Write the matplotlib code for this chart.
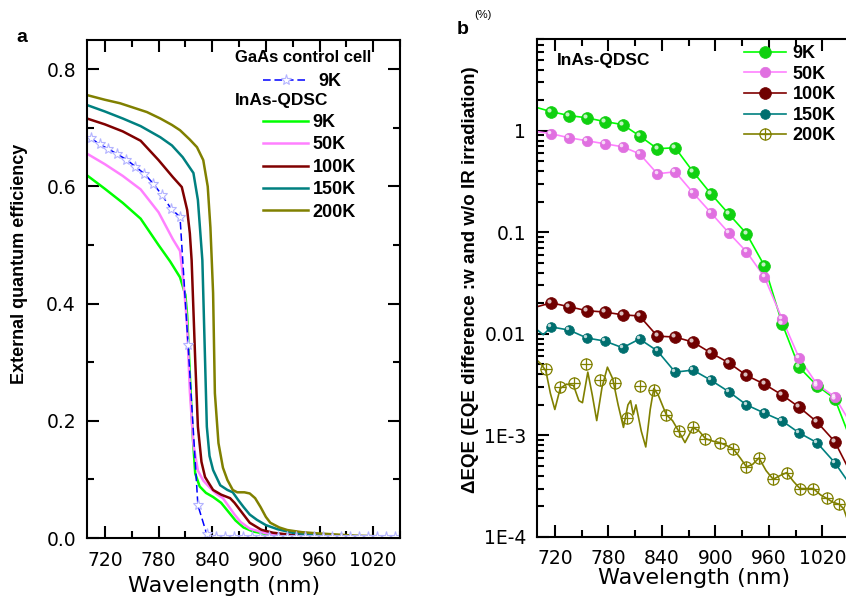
import matplotlib
matplotlib.use('Agg')
import matplotlib.pyplot as plt
import matplotlib.transforms as mtransforms
from matplotlib.ticker import FixedLocator, NullFormatter, MultipleLocator, LogLocator, FixedFormatter
from matplotlib.legend_handler import HandlerTuple

plt.rcParams['font.family'] = ['Liberation Sans', 'DejaVu Sans']

# ---------------- Panel a data (EQE vs wavelength) ----------------
a_wl_9k = [700, 720, 740, 760, 780, 793, 804, 810, 812, 815, 818, 821, 826, 833, 841, 850, 858, 866, 875, 886, 900, 920, 960, 1000, 1050]
a_eqe_9k = [0.619, 0.596, 0.572, 0.545, 0.50, 0.472, 0.445, 0.415, 0.38, 0.28, 0.18, 0.11, 0.088, 0.077, 0.07, 0.06, 0.045, 0.03, 0.018, 0.011, 0.007, 0.004, 0.002, 0.0015, 0.001]

a_wl_50k = [700, 720, 740, 760, 780, 796, 804, 807, 810, 812, 815, 819, 824, 830, 838, 845, 852, 858, 865, 872, 882, 900, 930, 1000, 1050]
a_eqe_50k = [0.656, 0.638, 0.618, 0.595, 0.556, 0.51, 0.49, 0.45, 0.40, 0.36, 0.25, 0.16, 0.115, 0.098, 0.085, 0.075, 0.068, 0.055, 0.04, 0.027, 0.016, 0.008, 0.004, 0.0018, 0.0012]

a_wl_100k = [700, 720, 740, 760, 780, 796, 806, 812, 815, 817, 821, 824, 828, 832, 841, 850, 860, 865, 870, 876, 882, 895, 908, 930, 1000, 1050]
a_eqe_100k = [0.716, 0.706, 0.694, 0.678, 0.645, 0.616, 0.599, 0.56, 0.52, 0.474, 0.304, 0.19, 0.13, 0.104, 0.082, 0.074, 0.068, 0.06, 0.05, 0.038, 0.026, 0.014, 0.009, 0.005, 0.002, 0.0015]

a_wl_150k = [700, 720, 740, 760, 782, 795, 807, 819, 824, 829, 832, 834, 837, 841, 849, 857, 863, 869, 875, 882, 890, 900, 913, 930, 950, 1000, 1050]
a_eqe_150k = [0.739, 0.728, 0.716, 0.703, 0.684, 0.670, 0.65, 0.623, 0.577, 0.474, 0.304, 0.19, 0.14, 0.116, 0.09, 0.082, 0.078, 0.065, 0.053, 0.04, 0.031, 0.022, 0.015, 0.009, 0.006, 0.0025, 0.0018]

a_wl_200k = [700, 720, 737, 767, 782, 795, 804, 815, 823, 830, 835, 838, 841, 843, 847, 852, 857, 863, 868, 876, 882, 888, 894, 900, 905, 915, 924, 940, 957, 1000, 1050]
a_eqe_200k = [0.756, 0.748, 0.742, 0.727, 0.716, 0.705, 0.696, 0.68, 0.667, 0.645, 0.60, 0.53, 0.418, 0.247, 0.162, 0.12, 0.099, 0.082, 0.078, 0.078, 0.076, 0.068, 0.053, 0.036, 0.026, 0.018, 0.0136, 0.01, 0.008, 0.004, 0.002]

gaas_wl = [704, 714, 724, 734, 744, 754, 764, 774, 784, 794, 804, 813, 824, 834, 844, 854, 864, 874, 884, 894, 904, 914, 924, 934, 944, 954, 964, 974, 984, 994, 1004, 1014, 1024, 1034, 1044]
gaas_eqe = [0.683, 0.672, 0.664, 0.655, 0.646, 0.634, 0.622, 0.605, 0.585, 0.562, 0.548, 0.33, 0.056, 0.006, 0.002, 0.0015, 0.0012, 0.001, 0.001, 0.001, 0.001, 0.001, 0.001, 0.001, 0.001, 0.001, 0.001, 0.001, 0.001, 0.001, 0.001, 0.001, 0.001, 0.001, 0.001]

# ---------------- Panel b data (Delta EQE, %) ----------------
b_mk_wl = [716, 736, 756, 776, 796, 815, 835, 855, 875, 895, 915, 935, 955, 975, 994, 1014, 1034]
b_9k = [1.54, 1.41, 1.34, 1.23, 1.15, 0.89, 0.665, 0.68, 0.395, 0.24, 0.152, 0.097, 0.047, 0.0126, 0.0047, 0.0031, 0.0023]
b_50k = [0.934, 0.853, 0.796, 0.744, 0.695, 0.593, 0.377, 0.394, 0.245, 0.156, 0.099, 0.0644, 0.0364, 0.014, 0.0058, 0.0032, 0.0024]
b_100k = [0.0202, 0.0185, 0.0169, 0.0164, 0.0154, 0.015, 0.0095, 0.0093, 0.0083, 0.0065, 0.0052, 0.0039, 0.0032, 0.0025, 0.0019, 0.00136, 0.00087]
b_150k = [0.0117, 0.0109, 0.0091, 0.0085, 0.0073, 0.0089, 0.0068, 0.0042, 0.0044, 0.0035, 0.0027, 0.002, 0.00166, 0.00139, 0.00106, 0.00085, 0.00054]
# curve end values (at 700 nm and 1050 nm)
b_9k_ends = [1.69, 0.001]
b_50k_ends = [0.98, 0.0014]
b_100k_ends = [0.0185, 0.00046]
b_150k_ends = [0.011, 0.00034]
b_150k_dip = [707, 0.0098]

b200_mk_wl = [710, 726, 741, 755, 771, 787, 801, 815, 831, 845, 859, 875, 889, 905, 920, 935, 949, 965, 980, 995, 1010, 1025, 1039]
b200_mk = [0.0045, 0.003, 0.0033, 0.005, 0.0035, 0.0033, 0.0015, 0.0031, 0.0028, 0.0016, 0.0011, 0.0012, 0.00093, 0.00085, 0.00074, 0.00049, 0.0006, 0.00037, 0.00043, 0.0003, 0.0003, 0.00024, 0.00021]
b200_wl = [700, 705, 710, 715, 720, 726, 733, 741, 747, 751, 757, 762, 767, 773, 779, 785, 791, 797, 802, 805, 808, 811, 817, 822, 827, 831, 836, 845, 852, 859, 866, 875, 882, 889, 897, 905, 912, 920, 928, 935, 942, 949, 957, 965, 972, 980, 988, 995, 1003, 1010, 1018, 1025, 1032, 1039, 1044, 1048, 1050]
b200_val = [0.0055, 0.005, 0.0043, 0.0026, 0.0018, 0.0029, 0.0032, 0.0031, 0.0022, 0.0021, 0.0042, 0.0025, 0.0014, 0.003, 0.0047, 0.0036, 0.002, 0.0012, 0.002, 0.0022, 0.0016, 0.002, 0.0011, 0.00077, 0.0018, 0.0029, 0.0025, 0.0016, 0.0014, 0.0011, 0.00085, 0.0012, 0.0011, 0.00093, 0.00088, 0.00085, 0.0008, 0.00074, 0.0006, 0.00049, 0.00052, 0.0006, 0.00045, 0.00037, 0.0004, 0.00043, 0.00035, 0.0003, 0.0003, 0.0003, 0.00026, 0.00024, 0.00022, 0.00021, 0.00019, 0.00015, 0.00013]

labels = ['9K', '50K', '100K', '150K', '200K']
colors = ['#00ff00', '#ff80ff', '#800000', '#008080', '#808000']
xticks = [720, 780, 840, 900, 960, 1020]

fig = plt.figure(figsize=(8.46, 6.01), dpi=100)
W, H = 846, 601
axa = fig.add_axes([87 / W, 63 / H, 313 / W, 498 / H])
axb = fig.add_axes([537 / W, 64 / H, 312 / W, 498 / H])

TICK_FS = 13.5
NUM_FONT = 'DejaVu Sans'

def style_axis(ax):
    for s in ax.spines.values():
        s.set_linewidth(1.5)
    ax.tick_params(which='both', direction='in', top=True, right=True, width=1.5,
                   labelsize=TICK_FS, labelfontfamily=NUM_FONT)
    ax.tick_params(which='major', length=8.5)
    ax.tick_params(which='minor', length=5)
    ax.tick_params(axis='x', pad=9)
    ax.tick_params(axis='y', pad=8)

# ---------------- Panel a ----------------
lw_a = 1.8
series_a = [(a_wl_9k, a_eqe_9k), (a_wl_50k, a_eqe_50k), (a_wl_100k, a_eqe_100k),
            (a_wl_150k, a_eqe_150k), (a_wl_200k, a_eqe_200k)]
handles_a = []
for (wl, v), c, lab in zip(series_a, colors, labels):
    h, = axa.plot(wl, v, color=c, lw=lw_a, label=lab)
    handles_a.append(h)
hb, = axa.plot(gaas_wl, gaas_eqe, color='#0000ff', lw=1.1, ls=(0, (5, 2.5)),
               marker='*', ms=8, mfc='white', mec='#b4b4ff', mew=0.8, label='9K')

axa.set_xlim(700, 1050)
axa.set_ylim(0, 0.85)
axa.xaxis.set_major_locator(FixedLocator(xticks))
axa.xaxis.set_minor_locator(MultipleLocator(30))
axa.yaxis.set_major_locator(MultipleLocator(0.2))
axa.yaxis.set_minor_locator(MultipleLocator(0.1))
axa.yaxis.set_major_formatter(matplotlib.ticker.FormatStrFormatter('%.1f'))
style_axis(axa)
axa.set_xlabel('Wavelength (nm)', fontsize=16, family=NUM_FONT)
axa.xaxis.set_label_coords((224 - 87) / 313, (538 - 576) / 498)
axa.set_ylabel('External quantum efficiency', fontsize=13, fontweight='bold')
axa.yaxis.set_label_coords((28 - 87) / 313, (538 - 264) / 498)

leg_fs = 13
axa.text(235 / W, 1 - 58 / H, 'GaAs control cell', transform=fig.transFigure,
         fontsize=12, fontweight='bold', va='center', ha='left')
axa.text(235 / W, 1 - 101 / H, 'InAs-QDSC', transform=fig.transFigure,
         fontsize=12.5, fontweight='bold', va='center', ha='left')
leg1 = axa.legend([hb], ['9K'], loc='upper left', bbox_to_anchor=(263 / W, 1 - 73 / H),
                  bbox_transform=fig.transFigure, frameon=False, borderpad=0,
                  borderaxespad=0, handlelength=2.5, handletextpad=0.55, numpoints=1,
                  prop={'size': leg_fs, 'weight': 'bold'})
axa.add_artist(leg1)
axa.legend(handles_a, labels, loc='upper left', bbox_to_anchor=(263 / W, 1 - 114 / H),
           bbox_transform=fig.transFigure, frameon=False, borderpad=0,
           borderaxespad=0, handlelength=2.5, handletextpad=0.25, labelspacing=0.3,
           prop={'size': leg_fs, 'weight': 'bold'})

# ---------------- Panel b ----------------
axb.set_yscale('log')
lw_b = 1.2
hl_trans = mtransforms.offset_copy(axb.transData, fig=fig, x=-1.3, y=1.3, units='points')
sph = [(b_9k, b_9k_ends, '#00ff00', '#10d010', 8.5),
       (b_50k, b_50k_ends, '#ff80ff', '#e070e0', 7.5),
       (b_100k, b_100k_ends, '#800000', '#700000', 8.5),
       (b_150k, b_150k_ends, '#008080', '#006f6f', 7.0)]
handles_b = []
for i, (vals, ends, lc, mc, ms) in enumerate(sph):
    wl_line = [700] + b_mk_wl + [1050]
    v_line = [ends[0]] + vals + [ends[1]]
    if i == 3:
        wl_line = [700, b_150k_dip[0]] + b_mk_wl + [1050]
        v_line = [ends[0], b_150k_dip[1]] + vals + [ends[1]]
    ln, = axb.plot(wl_line, v_line, color=lc, lw=lw_b, zorder=2)
    mk, = axb.plot(b_mk_wl, vals, ls='none', marker='o', ms=ms, mfc=mc, mec=mc,
                   mew=0.5, zorder=3)
    axb.plot(b_mk_wl, vals, ls='none', marker='o', ms=ms * 0.35, mfc='white',
             mec='none', alpha=0.75, transform=hl_trans, zorder=4)
    handles_b.append((ln, mk))

ln5, = axb.plot(b200_wl, b200_val, color='#808000', lw=lw_b, zorder=2)
mo, = axb.plot(b200_mk_wl, b200_mk, ls='none', marker='o', ms=8, mfc='none',
               mec='#808000', mew=0.9, zorder=3)
mp, = axb.plot(b200_mk_wl, b200_mk, ls='none', marker='+', ms=8, mec='#808000',
               mew=0.9, zorder=3)
handles_b.append((ln5, mo, mp))

axb.set_xlim(700, 1050)
axb.set_ylim(1e-4, 8)
axb.xaxis.set_major_locator(FixedLocator(xticks))
axb.xaxis.set_minor_locator(MultipleLocator(30))
axb.yaxis.set_major_locator(FixedLocator([1e-4, 1e-3, 1e-2, 1e-1, 1]))
axb.yaxis.set_major_formatter(FixedFormatter(['1E-4', '1E-3', '0.01', '0.1', '1']))
axb.yaxis.set_minor_locator(LogLocator(base=10, subs=[2, 3, 4, 5, 6, 7, 8, 9]))
axb.yaxis.set_minor_formatter(NullFormatter())
style_axis(axb)
axb.spines['right'].set_visible(False)
axb.tick_params(which='both', right=False)
axb.set_xlabel('Wavelength (nm)', fontsize=16, family=NUM_FONT)
axb.xaxis.set_label_coords((693 - 537) / 310, (537 - 568) / 498)
axb.set_ylabel('ΔEQE (EQE difference :w and w/o IR irradiation)', fontsize=13.5,
               fontweight='bold')
axb.yaxis.set_label_coords((479 - 537) / 310, (537 - 280) / 498)
axb.text(557 / W, 1 - 60 / H, 'InAs-QDSC', transform=fig.transFigure,
         fontsize=12.5, fontweight='bold', va='center', ha='left')
axb.legend(handles_b, labels, handler_map={tuple: HandlerTuple(ndivide=1)},
           loc='upper left', bbox_to_anchor=(744 / W, 1 - 45 / H),
           bbox_transform=fig.transFigure, frameon=False, borderpad=0,
           borderaxespad=0, handlelength=2.3, handletextpad=0.4, labelspacing=0.2,
           numpoints=1, prop={'size': leg_fs, 'weight': 'bold'})

fig.text(22 / W, 1 - 38 / H, 'a', fontsize=14, fontweight='bold', ha='center', va='center')
fig.text(463 / W, 1 - 29 / H, 'b', fontsize=14, fontweight='bold', ha='center', va='center')
fig.text(483 / W, 1 - 15 / H, '(%)', fontsize=8, ha='center', va='center')

fig.savefig('out.png', dpi=100)
